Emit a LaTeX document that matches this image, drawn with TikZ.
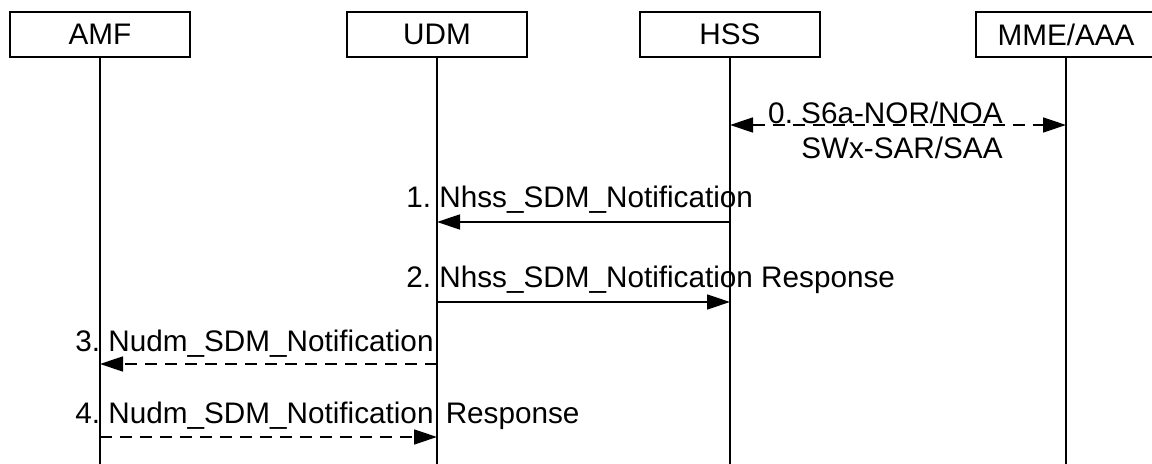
\documentclass[tikz,border=0pt]{standalone}
\usepackage{fontspec}
\setmainfont{Liberation Sans}
\frenchspacing
\usetikzlibrary{calc}
\usetikzlibrary{arrows.meta}
\tikzset{%
  % Specifications for style of nodes:
    >={Triangle[length=11.5pt,width=7.5pt]},
    entityBox/.style = {rectangle,draw,line width=0.7pt,minimum width=90pt,minimum height=22.5pt,inner sep=0},
    lifeLine/.style = {line width=0.7pt},
    msgLine/.style = {line width=0.7pt,->},
    msgDashed/.style = {msgLine,dash pattern=on 6pt off 4pt},
    msgLabel/.style = {anchor=base west,inner sep=0},
}

\begin{document}
\begin{tikzpicture}[x=0.5pt,y=-0.5pt,font=\fontsize{14.85}{17.5}\selectfont]
	\useasboundingbox (0,0) rectangle (1152,464);

	\node [entityBox] (amf) at (100,34.5) {AMF};
	\node [entityBox] (udm) at (437,34.5) {UDM};
	\node [entityBox] (hss) at (730,34.5) {HSS};
	\node [entityBox] (mme) at (1066,34.5) {MME/AAA};

	\coordinate (bottom) at (0,470);
	\foreach \n in {amf,udm,hss,mme}
		\draw[lifeLine] (\n.south) -- (\n.south |- bottom);

	\coordinate (m0) at (0,125);
	\coordinate (m1) at (0,222);
	\coordinate (m2) at (0,302);
	\coordinate (m3) at (0,364);
	\coordinate (m4) at (0,437);

	\draw[msgDashed,<->] (hss |- m0) -- (mme |- m0);
	\node [anchor=north east, align=right, inner sep=0] (m0Label) at (1003,102) {0. S6a-NOR/NOA\\SWx-SAR/SAA};

	\draw[msgLine] (hss |- m1) -- (udm |- m1);
	\node [msgLabel] (m1Label) at ($(udm |- m1)+(-31,-14)$) {1. Nhss\_SDM\_Notification};

	\draw[msgLine] (udm |- m2) -- (hss |- m2);
	\node [msgLabel] (m2Label) at ($(udm |- m2)+(-31,-14)$) {2. Nhss\_SDM\_Notification Response};

	\draw[msgDashed] (udm |- m3) -- (amf |- m3);
	\node [msgLabel] (m3Label) at ($(amf |- m3)+(-25,-12)$) {3. Nudm\_SDM\_Notification};

	\draw[msgDashed] (amf |- m4) -- (udm |- m4);
	\node [msgLabel] (m4Label) at ($(amf |- m4)+(-25,-13)$) {4. Nudm\_SDM\_Notification\hspace{2pt} Response};

\end{tikzpicture}
\end{document}
